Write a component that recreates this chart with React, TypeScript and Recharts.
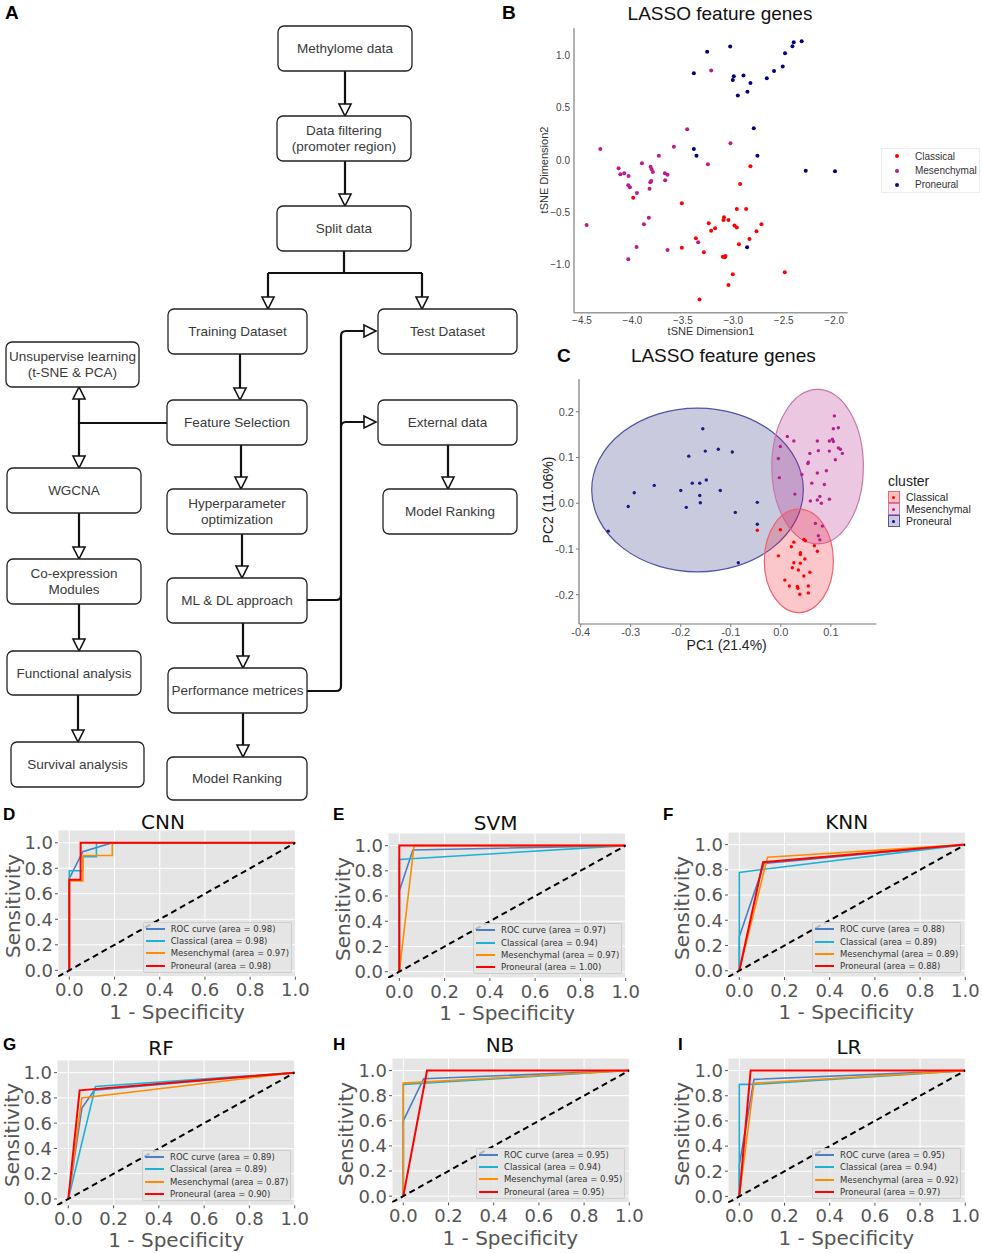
import React from 'react';
import {
  ScatterChart,
  Scatter,
  LineChart,
  Line,
  XAxis,
  YAxis,
  CartesianGrid,
  Legend,
  ReferenceArea,
} from 'recharts';

const SANS = '"Liberation Sans", Arial, sans-serif';
const DEJAVU = '"DejaVu Sans", sans-serif';

// ---------- B: t-SNE of LASSO feature genes ----------
const tsneClassical = [
  [-2.83, -0.061], [-2.932, -0.229], [-3.992, -0.36], [-3.51, -0.414], [-2.965, -0.468],
  [-2.873, -0.468], [-3.092, -0.548], [-3.097, -0.573], [-3.048, -0.573], [-3.243, -0.605],
  [-2.988, -0.627], [-2.965, -0.646], [-2.721, -0.615], [-3.18, -0.653], [-3.219, -0.675],
  [-2.77, -0.682], [-3.371, -0.748], [-2.84, -0.755], [-2.944, -0.806], [-3.51, -0.838],
  [-3.292, -0.882], [-3.104, -0.924], [-3.078, -0.917], [-3.084, -0.93], [-3.005, -1.092],
  [-2.49, -1.073], [-3.048, -1.194], [-3.335, -1.334],
];
const tsneMesenchymal = [
  [-3.219, 0.854], [-3.457, 0.293], [-4.318, 0.105], [-3.589, 0.127], [-3.028, 0.159],
  [-3.738, 0.041], [-4.137, -0.08], [-4.12, -0.137], [-4.081, -0.127], [-4.038, -0.153],
  [-3.906, -0.032], [-3.82, -0.064], [-3.81, -0.089], [-3.797, -0.115], [-3.678, -0.127],
  [-3.652, -0.14], [-3.675, -0.194], [-3.823, -0.213], [-3.813, -0.201], [-4.041, -0.242],
  [-4.025, -0.261], [-3.83, -0.274], [-3.955, -0.315], [-3.252, -0.041], [-4.454, -0.621],
  [-3.837, -0.551], [-3.886, -0.615], [-3.348, -0.787], [-3.959, -0.831], [-3.652, -0.86],
  [-4.041, -0.949],
];
const tsneProneural = [
  [-3.259, 1.035], [-3.031, 1.083], [-3.391, 0.828], [-2.995, 0.799], [-3.005, 0.764],
  [-2.899, 0.806], [-2.83, 0.736], [-2.955, 0.615], [-2.86, 0.653], [-2.668, 0.78],
  [-2.596, 0.85], [-2.51, 0.892], [-2.487, 1.019], [-2.414, 1.086], [-2.401, 1.124],
  [-2.322, 1.134], [-2.797, 0.303], [-3.391, 0.105], [-3.365, 0.041], [-2.761, 0.041],
  [-2.282, -0.102], [-1.992, -0.108], [-2.863, -0.834],
];
const tsneXTicks = [-4.5, -4, -3.5, -3, -2.5, -2];
const tsneYTicks = [-1, -0.5, 0, 0.5, 1];

// ---------- C: PCA of LASSO feature genes ----------
const pcaClassical = [
  [-0.047, -0.059], [-0.001, -0.058], [0.046, -0.079], [0.049, -0.082], [0.026, -0.085],
  [0.021, -0.095], [0.067, -0.093], [0.073, -0.105], [0.039, -0.108], [0.039, -0.112],
  [-0.005, -0.115], [0.048, -0.122], [0.026, -0.13], [0.039, -0.131], [0.023, -0.141],
  [0.035, -0.146], [0.058, -0.151], [0.046, -0.159], [0.008, -0.168], [0.017, -0.181],
  [0.033, -0.182], [0.034, -0.186], [0.055, -0.181], [0.038, -0.199], [0.055, -0.196],
];
const pcaMesenchymal = [
  [0.107, 0.191], [0.105, 0.163], [0.115, 0.165], [0.013, 0.146], [0.026, 0.136],
  [0.073, 0.136], [0.097, 0.136], [0.103, 0.14], [0.105, 0.135], [-0.001, 0.124],
  [0.058, 0.109], [0.075, 0.115], [0.097, 0.114], [0.115, 0.121], [0.119, 0.118],
  [0.123, 0.109], [-0.005, 0.098], [0.109, 0.095], [0.055, 0.09], [0.054, 0.087],
  [0.091, 0.071], [0.073, 0.066], [0.042, 0.063], [-0.003, 0.056], [0.062, 0.044],
  [0.087, 0.041], [0.028, 0.02], [0.078, 0.015], [0.059, 0.005], [0.073, 0.007],
  [0.081, 0.0], [0.097, 0.009], [0.069, -0.044], [0.083, -0.05], [0.075, -0.071],
  [0.078, -0.08],
];
const pcaProneural = [
  [-0.156, 0.163], [-0.151, 0.114], [-0.125, 0.118], [-0.097, 0.112], [-0.184, 0.103],
  [-0.253, 0.039], [-0.293, 0.023], [-0.2, 0.028], [-0.177, 0.044], [-0.162, 0.044],
  [-0.149, 0.051], [-0.121, 0.028], [-0.162, 0.017], [-0.161, 0.001], [-0.305, -0.007],
  [-0.189, -0.009], [-0.091, -0.02], [-0.047, 0.002], [-0.047, -0.046], [-0.345, -0.061],
  [-0.085, -0.13],
];
// ellipse extents: [xMin, xMax, yMin, yMax]
const ellipseClassical = [-0.033, 0.105, -0.239, -0.013];
const ellipseMesenchymal = [-0.018, 0.165, -0.089, 0.249];
const ellipseProneural = [-0.378, 0.045, -0.15, 0.208];
const pcaXTicks = [-0.4, -0.3, -0.2, -0.1, 0, 0.1];
const pcaYTicks = [-0.2, -0.1, 0, 0.1, 0.2];

const clusters = ['Classical', 'Mesenchymal', 'Proneural'];

// ---------- D-I: ROC curves ----------
const rocNames = ['ROC curve', 'Classical', 'Mesenchymal', 'Proneural'];
const rocTicks = [0, 0.2, 0.4, 0.6, 0.8, 1];

const cnnArea = [0.98, 0.98, 0.97, 0.98];
const cnnRoc = [[0, 0], [0, 0.72], [0.06, 0.93], [0.19, 1], [1, 1]];
const cnnClassical = [[0, 0], [0, 0.78], [0.06, 0.78], [0.06, 0.89], [0.12, 0.89], [0.12, 1], [1, 1]];
const cnnMesenchymal = [[0, 0], [0, 0.7], [0.06, 0.7], [0.06, 0.9], [0.19, 0.9], [0.19, 1], [1, 1]];
const cnnProneural = [[0, 0], [0, 0.71], [0.05, 0.71], [0.05, 1], [1, 1]];

const svmArea = [0.97, 0.94, 0.97, 1.0];
const svmRoc = [[0, 0], [0, 0.64], [0.06, 0.965], [1, 1]];
const svmClassical = [[0, 0], [0, 0.89], [1, 1]];
const svmMesenchymal = [[0, 0], [0.065, 1], [1, 1]];
const svmProneural = [[0, 0], [0, 1], [1, 1]];

const knnArea = [0.88, 0.89, 0.89, 0.88];
const knnRoc = [[0, 0], [0, 0.27], [0.11, 0.85], [1, 1]];
const knnClassical = [[0, 0], [0, 0.78], [1, 1]];
const knnMesenchymal = [[0, 0], [0.125, 0.9], [1, 1]];
const knnProneural = [[0, 0], [0.105, 0.86], [1, 1]];

const rfArea = [0.89, 0.89, 0.87, 0.9];
const rfRoc = [[0, 0], [0.06, 0.72], [0.115, 0.86], [1, 1]];
const rfClassical = [[0, 0], [0.12, 0.89], [1, 1]];
const rfMesenchymal = [[0, 0], [0.06, 0.8], [1, 1]];
const rfProneural = [[0, 0], [0.05, 0.86], [1, 1]];

const nbArea = [0.95, 0.94, 0.95, 0.95];
const nbRoc = [[0, 0], [0, 0.6], [0.09, 0.935], [1, 1]];
const nbClassical = [[0, 0], [0, 0.89], [1, 1]];
const nbMesenchymal = [[0, 0], [0, 0.9], [1, 1]];
const nbProneural = [[0, 0], [0.105, 1], [1, 1]];

const lrArea = [0.95, 0.94, 0.92, 0.97];
const lrRoc = [[0, 0], [0, 0.25], [0.065, 0.93], [1, 1]];
const lrClassical = [[0, 0], [0, 0.89], [0.06, 0.89], [1, 1]];
const lrMesenchymal = [[0, 0], [0.065, 0.9], [1, 1]];
const lrProneural = [[0, 0], [0.05, 1], [1, 1]];

const chanceLine = [[-0.05, -0.05], [1, 1]];

// ---------- styling / layout ----------
const clusterColors = ['#ff0000', '#c0188c', '#0c0c78'];
const ellipseFill = ['#ee2030', '#b0208a', '#2b2b80'];
const ellipseStroke = ['#f06070', '#c878a8', '#5252a6'];
const rocColors = ['#4a7fc4', '#1cb2d6', '#ff8c00', '#ff0000'];

const rocPanels = [
  { letter: 'D', title: 'CNN', area: cnnArea, curves: [cnnRoc, cnnClassical, cnnMesenchymal, cnnProneural],
    plot: { x: 58.3, y: 830, w: 237.4, h: 146.7 }, titlePos: [163, 821.7], letterPos: [3, 814] },
  { letter: 'E', title: 'SVM', area: svmArea, curves: [svmRoc, svmClassical, svmMesenchymal, svmProneural],
    plot: { x: 388.3, y: 833.3, w: 237.7, h: 145 }, titlePos: [495.7, 822.7], letterPos: [333, 814] },
  { letter: 'F', title: 'KNN', area: knnArea, curves: [knnRoc, knnClassical, knnMesenchymal, knnProneural],
    plot: { x: 727.7, y: 832.3, w: 237.3, h: 145 }, titlePos: [846.7, 822], letterPos: [663, 814] },
  { letter: 'G', title: 'RF', area: rfArea, curves: [rfRoc, rfClassical, rfMesenchymal, rfProneural],
    plot: { x: 57.3, y: 1059.7, w: 237.7, h: 145.3 }, titlePos: [161, 1047.7], letterPos: [3, 1044] },
  { letter: 'H', title: 'NB', area: nbArea, curves: [nbRoc, nbClassical, nbMesenchymal, nbProneural],
    plot: { x: 391.7, y: 1058.3, w: 237.3, h: 144.4 }, titlePos: [500, 1045], letterPos: [333, 1044] },
  { letter: 'I', title: 'LR', area: lrArea, curves: [lrRoc, lrClassical, lrMesenchymal, lrProneural],
    plot: { x: 727.7, y: 1058.3, w: 237.3, h: 144.7 }, titlePos: [849, 1046.7], letterPos: [678, 1044] },
];

const flowBoxes = [
  { x: 278, y: 26, w: 134, h: 45, lines: ['Methylome data'] },
  { x: 277, y: 116, w: 134, h: 45, lines: ['Data filtering', '(promoter region)'] },
  { x: 277, y: 206, w: 134, h: 45, lines: ['Split data'] },
  { x: 168, y: 309, w: 139, h: 45, lines: ['Training Dataset'] },
  { x: 378, y: 309, w: 139, h: 45, lines: ['Test Dataset'] },
  { x: 6, y: 342, w: 133, h: 45, lines: ['Unsupervise learning', '(t-SNE & PCA)'] },
  { x: 167, y: 400, w: 140, h: 45, lines: ['Feature Selection'] },
  { x: 378, y: 400, w: 139, h: 45, lines: ['External data'] },
  { x: 7, y: 468, w: 134, h: 45, lines: ['WGCNA'] },
  { x: 167, y: 489, w: 140, h: 45, lines: ['Hyperparameter', 'optimization'] },
  { x: 383, y: 489, w: 134, h: 45, lines: ['Model Ranking'] },
  { x: 7, y: 559, w: 134, h: 45, lines: ['Co-expression', 'Modules'] },
  { x: 167, y: 578, w: 140, h: 45, lines: ['ML & DL approach'] },
  { x: 7, y: 651, w: 134, h: 44, lines: ['Functional analysis'] },
  { x: 168, y: 668, w: 139, h: 45, lines: ['Performance metrices'] },
  { x: 11, y: 742, w: 133, h: 45, lines: ['Survival analysis'] },
  { x: 167, y: 757, w: 140, h: 43, lines: ['Model Ranking'] },
];

// [x, fromY, toY]
const flowDownArrows = [
  [345, 71, 116], [345, 161, 206], [268, 273, 309], [422, 273, 309], [240, 354, 400],
  [241, 445, 489], [242, 534, 578], [243, 623, 668], [243, 713, 757], [448, 445, 489],
  [79, 423, 468], [79, 513, 559], [79, 604, 651], [78, 695, 742],
];

const toPts = (a: number[][]) => a.map(([x, y]) => ({ x, y }));
const fmt1 = (v: number) => v.toFixed(1);
const fmtMinus = (v: number) => v.toFixed(1).replace('-', '\u2212');

const Txt = ({ x, y, children, size, family = SANS, weight = 'normal', color = '#222', anchor = 'middle', rotate = 0 }: any) => (
  <div
    style={{
      position: 'absolute',
      left: x,
      top: y,
      fontSize: size,
      fontFamily: family,
      fontWeight: weight,
      color,
      lineHeight: 1,
      whiteSpace: 'nowrap',
      transform: `translate(${anchor === 'start' ? '0' : '-50%'}, -50%) rotate(${rotate}deg)`,
    }}
  >
    {children}
  </div>
);

const Flowchart = () => {
  const stroke = '#111';
  const head = (x: number, tipY: number, dir: number) => {
    const b = tipY - dir * 12;
    return <polygon points={`${x - 6},${b} ${x + 6},${b} ${x},${tipY}`} fill="#fff" stroke={stroke} strokeWidth={1.6} />;
  };
  const rightHead = (tipX: number, y: number) => (
    <polygon points={`${tipX - 12},${y - 6} ${tipX - 12},${y + 6} ${tipX},${y}`} fill="#fff" stroke={stroke} strokeWidth={1.6} />
  );
  return (
    <svg width={530} height={805} style={{ position: 'absolute', left: 0, top: 0 }}>
      <g fill="none" stroke={stroke} strokeWidth={2.2}>
        <path d="M344 251 V273 M268 273 H422" />
        <path d="M167 423 H79 V399" />
        <path d="M307 600 H336 Q341 600 341 595 V336 Q341 331 346 331 H364" />
        <path d="M307 691 H336 Q341 691 341 686 V595" />
        <path d="M341 427 Q341 422 346 422 H364" />
        {flowDownArrows.map(([x, a, b], i) => (
          <path key={i} d={`M${x} ${a} V${b - 12}`} />
        ))}
      </g>
      {flowDownArrows.map(([x, , b], i) => (
        <g key={i}>{head(x, b, 1)}</g>
      ))}
      {head(79, 387, -1)}
      {rightHead(376, 331)}
      {rightHead(376, 422)}
      {flowBoxes.map((b, i) => (
        <g key={i}>
          <rect x={b.x} y={b.y} width={b.w} height={b.h} rx={6} fill="#fff" stroke="#222" strokeWidth={1.3} />
          {b.lines.map((l, j) => (
            <text
              key={j}
              x={b.x + b.w / 2}
              y={b.y + b.h / 2 + (j - (b.lines.length - 1) / 2) * 16.5}
              textAnchor="middle"
              dominantBaseline="central"
              fontFamily={SANS}
              fontSize={13.5}
              fill="#3a3a3a"
            >
              {l}
            </text>
          ))}
        </g>
      ))}
    </svg>
  );
};

const dotShape = (color: string, r: number) => (p: any) => <circle cx={p.cx} cy={p.cy} r={r} fill={color} />;

const TsneLegend = () => (
  <div
    style={{
      width: 99, height: 45, boxSizing: 'border-box', background: '#fff', border: '1px solid #ececec',
      fontFamily: SANS, fontSize: 10, color: '#333', paddingTop: 0,
    }}
  >
    {clusters.map((c, i) => (
      <div key={c} style={{ height: 14.4, display: 'flex', alignItems: 'center' }}>
        <span style={{ width: 4, height: 4, borderRadius: 2, background: clusterColors[i], marginLeft: 12.7, marginRight: 16.3 }} />
        {c}
      </div>
    ))}
  </div>
);

const TsnePanel = () => (
  <div style={{ position: 'absolute', left: 534.3, top: 20 }}>
    <ScatterChart width={447.7} height={317.7} margin={{ top: 8.3, right: 134, bottom: 0, left: 0 }}>
      <XAxis
        type="number" dataKey="x" domain={[-4.579, -1.866]} ticks={tsneXTicks} interval={0} allowDataOverflow
        height={25} axisLine={{ stroke: '#999999', strokeWidth: 1.5 }} tickLine={{ stroke: '#999999', strokeWidth: 0 }}
        tickSize={0} tickMargin={4} tick={{ fontSize: 10, fill: '#444', fontFamily: SANS }} tickFormatter={fmtMinus}
      />
      <YAxis
        type="number" dataKey="y" domain={[-1.459, 1.258]} ticks={tsneYTicks} interval={0} allowDataOverflow
        width={40} axisLine={{ stroke: '#999999', strokeWidth: 1.5 }} tickLine={{ stroke: '#999999', strokeWidth: 0 }}
        tickSize={0} tickMargin={4} tick={{ fontSize: 10, fill: '#444', fontFamily: SANS }} tickFormatter={fmtMinus}
      />
      <Scatter name="Classical" data={toPts(tsneClassical)} shape={dotShape(clusterColors[0], 2)} isAnimationActive={false} />
      <Scatter name="Mesenchymal" data={toPts(tsneMesenchymal)} shape={dotShape(clusterColors[1], 2)} isAnimationActive={false} />
      <Scatter name="Proneural" data={toPts(tsneProneural)} shape={dotShape('#000080', 2)} isAnimationActive={false} />
      <Legend
        layout="horizontal" verticalAlign="middle" align="center" content={() => <TsneLegend />}
        wrapperStyle={{ left: 346.7, top: 128, width: 99, height: 45 }}
      />
    </ScatterChart>
  </div>
);

const PcaLegend = () => (
  <div style={{ fontFamily: SANS, color: '#222', width: 92 }}>
    <div style={{ fontSize: 14, height: 19, lineHeight: '19px' }}>cluster</div>
    {clusters.map((c, i) => (
      <div key={c} style={{ height: 12, display: 'flex', alignItems: 'center', fontSize: 10.5 }}>
        <span
          style={{
            width: 12, height: 12, boxSizing: 'border-box', background: ['#f6c0c4', '#ecd0e4', '#cacade'][i],
            border: `1px solid ${ellipseStroke[i]}`, display: 'flex', alignItems: 'center', justifyContent: 'center', marginRight: 6,
          }}
        >
          <span style={{ width: 3, height: 3, borderRadius: 2, background: clusterColors[i] }} />
        </span>
        {c}
      </div>
    ))}
  </div>
);

const ellipseShape = (fill: string, stroke: string) => (p: any) => (
  <ellipse
    cx={p.x + p.width / 2} cy={p.y + p.height / 2} rx={Math.abs(p.width) / 2} ry={Math.abs(p.height) / 2}
    fill={fill} fillOpacity={0.25} stroke={stroke} strokeWidth={1.2}
  />
);

const PcaPanel = () => {
  const ells = [ellipseProneural, ellipseMesenchymal, ellipseClassical];
  const idx = [2, 1, 0];
  return (
    <div style={{ position: 'absolute', left: 539.3, top: 370 }}>
      <ScatterChart width={442.7} height={276} margin={{ top: 9.3, right: 105.3, bottom: 0, left: 0 }}>
        <XAxis
          type="number" dataKey="x" domain={[-0.4034, 0.191]} ticks={pcaXTicks} interval={0} allowDataOverflow
          height={22} axisLine={{ stroke: '#7a7a7a', strokeWidth: 1.2 }} tickLine={{ stroke: '#7a7a7a' }} tickSize={3} tickMargin={1}
          tick={{ fontSize: 11, fill: '#4d4d4d', fontFamily: SANS }} tickFormatter={fmt1}
        />
        <YAxis
          type="number" dataKey="y" domain={[-0.264, 0.271]} ticks={pcaYTicks} interval={0} allowDataOverflow
          width={40} axisLine={{ stroke: '#7a7a7a', strokeWidth: 1.2 }} tickLine={{ stroke: '#7a7a7a' }} tickSize={3} tickMargin={2}
          tick={{ fontSize: 11, fill: '#4d4d4d', fontFamily: SANS }} tickFormatter={fmt1}
        />
        {ells.map((e, k) => (
          <ReferenceArea
            key={k} x1={e[0]} x2={e[1]} y1={e[2]} y2={e[3]} ifOverflow="visible"
            shape={ellipseShape(ellipseFill[idx[k]], ellipseStroke[idx[k]])}
          />
        ))}
        <Scatter name="Proneural" data={toPts(pcaProneural)} shape={dotShape('#1a1a80', 1.7)} isAnimationActive={false} />
        <Scatter name="Mesenchymal" data={toPts(pcaMesenchymal)} shape={dotShape('#b3208c', 1.7)} isAnimationActive={false} />
        <Scatter name="Classical" data={toPts(pcaClassical)} shape={dotShape('#ff0000', 1.7)} isAnimationActive={false} />
        <Legend
          layout="horizontal" verticalAlign="middle" align="center" content={() => <PcaLegend />}
          wrapperStyle={{ left: 348.7, top: 102, width: 92, height: 60 }}
        />
      </ScatterChart>
    </div>
  );
};

const RocLegend = ({ area }: { area: number[] }) => (
  <div
    style={{
      width: 149, height: 51, boxSizing: 'border-box', background: 'rgba(229,229,229,0.8)',
      border: '1px solid rgba(200,200,200,0.8)', borderRadius: 2, fontFamily: DEJAVU, fontSize: 8.5, color: '#333',
    }}
  >
    {rocNames.map((n, i) => (
      <div key={n} style={{ height: 12.3, display: 'flex', alignItems: 'center' }}>
        <span style={{ width: 19, height: 2, background: rocColors[i], marginLeft: 2, marginRight: 6 }} />
        {`${n} (area = ${area[i].toFixed(2)})`}
      </div>
    ))}
  </div>
);

const RocPanel = ({ p }: any) => {
  const Y_W = 58, M_TOP = 30, M_RIGHT = 16, X_H = 45;
  const { plot } = p;
  const width = Y_W + plot.w + M_RIGHT;
  const height = M_TOP + plot.h + X_H;
  const tickStyle = { fontSize: 18, fill: '#555', fontFamily: DEJAVU };
  return (
    <>
      <div style={{ position: 'absolute', left: plot.x - Y_W, top: plot.y - M_TOP }}>
        <LineChart width={width} height={height} margin={{ top: M_TOP, right: M_RIGHT, bottom: 0, left: 0 }}>
          <CartesianGrid fill="#e5e5e5" stroke="#ffffff" strokeWidth={1} />
          <XAxis
            type="number" dataKey="x" domain={[-0.05, 1]} ticks={rocTicks} interval={0} allowDataOverflow
            height={X_H} axisLine={false} tickLine={{ stroke: '#555' }} tickSize={3} tickMargin={4}
            tick={tickStyle} tickFormatter={fmt1}
          />
          <YAxis
            type="number" dataKey="y" domain={[-0.05, 1.1]} ticks={rocTicks} interval={0} allowDataOverflow
            width={Y_W} axisLine={false} tickLine={{ stroke: '#555' }} tickSize={3} tickMargin={2}
            tick={tickStyle} tickFormatter={fmt1}
          />
          {p.curves.map((c: number[][], i: number) => (
            <Line
              key={rocNames[i]} name={rocNames[i]} data={toPts(c)} dataKey="y" type="linear"
              stroke={rocColors[i]} strokeWidth={i === 3 ? 2 : 1.6} dot={false} activeDot={false} isAnimationActive={false}
            />
          ))}
          <Line
            name="chance" data={toPts(chanceLine)} dataKey="y" type="linear" stroke="#000" strokeWidth={2}
            strokeDasharray="6 4" dot={false} activeDot={false} isAnimationActive={false} legendType="none"
          />
          <Legend
            layout="horizontal" verticalAlign="middle" align="center" content={() => <RocLegend area={p.area} />}
            wrapperStyle={{ left: Y_W + plot.w - 153, top: M_TOP + plot.h - 55, width: 149, height: 51 }}
          />
        </LineChart>
      </div>
      <Txt x={p.letterPos[0]} y={p.letterPos[1]} size={17} weight="bold" anchor="start" color="#000">{p.letter}</Txt>
      <Txt x={p.titlePos[0]} y={p.titlePos[1]} size={20} family={DEJAVU} color="#111">{p.title}</Txt>
      <Txt x={plot.x - 45.5} y={plot.y + plot.h / 2 + 3} size={20} family={DEJAVU} color="#555" rotate={-90}>Sensitivity</Txt>
      <Txt x={plot.x + plot.w / 2} y={plot.y + plot.h + 35} size={20} family={DEJAVU} color="#555">1 - Specificity</Txt>
    </>
  );
};

export default function App() {
  return (
    <div style={{ position: 'relative', width: 982, height: 1253, background: '#fff', overflow: 'hidden' }}>
      <style>{'body{margin:0;}'}</style>
      <Flowchart />
      <TsnePanel />
      <PcaPanel />
      {rocPanels.map((p) => (
        <RocPanel key={p.letter} p={p} />
      ))}

      <Txt x={5} y={12} size={19} weight="bold" anchor="start" color="#000">A</Txt>
      <Txt x={502} y={12} size={19} weight="bold" anchor="start" color="#000">B</Txt>
      <Txt x={720} y={13} size={19} color="#111">LASSO feature genes</Txt>
      <Txt x={711} y={331} size={11} color="#333">tSNE Dimension1</Txt>
      <Txt x={544} y={170} size={11} color="#333" rotate={-90}>tSNE Dimension2</Txt>

      <Txt x={557} y={355} size={19} weight="bold" anchor="start" color="#000">C</Txt>
      <Txt x={723.3} y={355} size={19} color="#111">LASSO feature genes</Txt>
      <Txt x={726.7} y={645} size={14} color="#222">PC1 (21.4%)</Txt>
      <Txt x={548.3} y={500} size={14} color="#222" rotate={-90}>PC2 (11.06%)</Txt>
    </div>
  );
}
